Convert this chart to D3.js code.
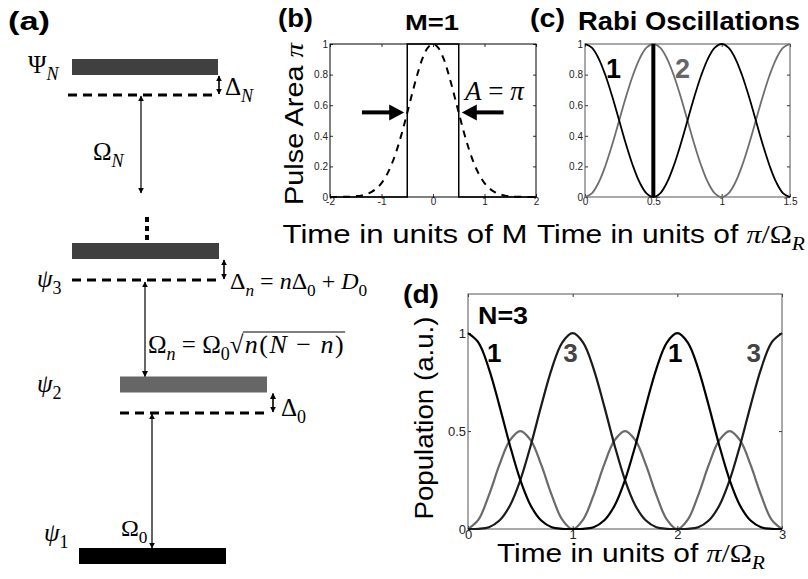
<!DOCTYPE html>
<html><head><meta charset="utf-8">
<script src="https://cdn.jsdelivr.net/npm/d3@7"></script>
<style>
body{margin:0;background:#fff}
svg{display:block}
text{font-family:"Liberation Sans",Arial,Helvetica,sans-serif}
</style>
</head><body>
<svg id="fig" width="808" height="579"></svg>
<script>
// ---------- DATA ----------
// (a) level diagram: energies in arbitrary units
const levelNames = ["ψ1", "ψ2", "ψ3", "ΨN"];
const levelEnergy = [0, 3.43, 6.1, 9.78];
const dressedEnergy = [2.86, 5.52, 9.22];   // dashed (detuned) levels below ψ2, ψ3, ΨN

// (b) pulse shapes
const pulseTime = [-2,-1.9,-1.8,-1.7,-1.6,-1.5,-1.4,-1.3,-1.2,-1.1,-1,-0.9,-0.8,-0.7,-0.6,-0.5,-0.4,-0.3,-0.2,-0.1,0,
  0.1,0.2,0.3,0.4,0.5,0.6,0.7,0.8,0.9,1,1.1,1.2,1.3,1.4,1.5,1.6,1.7,1.8,1.9,2];
const gaussArea = [0,0,0.001,0.001,0.002,0.005,0.009,0.018,0.032,0.055,0.091,0.144,0.216,0.31,0.423,0.55,0.682,0.806,0.909,0.976,1,
  0.976,0.909,0.806,0.682,0.55,0.423,0.31,0.216,0.144,0.091,0.055,0.032,0.018,0.009,0.005,0.002,0.001,0.001,0,0];
const squareTime = [-2,-0.5,-0.5,0.5,0.5,2];
const squareArea = [0,0,1,1,0,0];
const arrowY = 0.553;
const bXTicks = [-2,-1,0,1,2];
const bYTicks = [0,0.2,0.4,0.6,0.8,1];

// (c) Rabi oscillations, two levels
const rabiTime = [0,0.05,0.1,0.15,0.2,0.25,0.3,0.35,0.4,0.45,0.5,0.55,0.6,0.65,0.7,0.75,0.8,0.85,0.9,0.95,1,
  1.05,1.1,1.15,1.2,1.25,1.3,1.35,1.4,1.45,1.5];
const rabiPop1 = [1,0.976,0.905,0.794,0.655,0.5,0.345,0.206,0.095,0.024,0,0.024,0.095,0.206,0.345,0.5,0.655,0.794,0.905,0.976,1,
  0.976,0.905,0.794,0.655,0.5,0.345,0.206,0.095,0.024,0];
const rabiPop2 = [0,0.024,0.095,0.206,0.345,0.5,0.655,0.794,0.905,0.976,1,0.976,0.905,0.794,0.655,0.5,0.345,0.206,0.095,0.024,0,
  0.024,0.095,0.206,0.345,0.5,0.655,0.794,0.905,0.976,1];
const cXTicks = [0,0.5,1,1.5];
const cYTicks = [0,0.2,0.4,0.6,0.8,1];

// (d) N=3 populations
const popTime = [0,0.1,0.2,0.3,0.4,0.5,0.6,0.7,0.8,0.9,1,1.1,1.2,1.3,1.4,1.5,1.6,1.7,1.8,1.9,2,
  2.1,2.2,2.3,2.4,2.5,2.6,2.7,2.8,2.9,3];
const popN1 = [1,0.952,0.818,0.63,0.428,0.25,0.119,0.043,0.009,0.001,0,0.001,0.009,0.043,0.119,0.25,0.428,0.63,0.818,0.952,1,
  0.952,0.818,0.63,0.428,0.25,0.119,0.043,0.009,0.001,0];
const popN2 = [0,0.048,0.173,0.327,0.452,0.5,0.452,0.327,0.173,0.048,0,0.048,0.173,0.327,0.452,0.5,0.452,0.327,0.173,0.048,0,
  0.048,0.173,0.327,0.452,0.5,0.452,0.327,0.173,0.048,0];
const popN3 = [0,0.001,0.009,0.043,0.119,0.25,0.428,0.63,0.818,0.952,1,0.952,0.818,0.63,0.428,0.25,0.119,0.043,0.009,0.001,0,
  0.001,0.009,0.043,0.119,0.25,0.428,0.63,0.818,0.952,1];
const dXTicks = [0,1,2,3];
const dYTicks = [0,0.5,1];
const dCurveLabels = ["1","3","1","3"];
const dCurveLabelTime = [0.25,0.98,1.98,2.73];

// ---------- HELPERS ----------
const svg = d3.select("#fig");
const SERIF = "'Liberation Serif','Times New Roman',serif";

function rich(parent, x, y, parts, size, anchor, len, adj) {
  const t = parent.append("text").attr("x", x).attr("y", y).attr("font-size", size);
  if (anchor) t.attr("text-anchor", anchor);
  let shift = 0;
  parts.forEach(p => {
    const s = typeof p === "string" ? {t: p} : p;
    const ts = t.append("tspan").text(s.t);
    const target = s.sub ? size * 0.28 : 0;
    if (target !== shift) ts.attr("dy", target - shift);
    shift = target;
    ts.attr("font-size", s.sub ? size * 0.72 : size);
    if (s.m) ts.attr("font-family", SERIF);
    if (s.it) ts.attr("font-style", "italic");
  });
  if (len) t.attr("textLength", len).attr("lengthAdjust", adj || "spacingAndGlyphs");
  return t;
}

svg.append("defs").append("marker").attr("id","ah").attr("viewBox","0 0 10 10").attr("refX",9).attr("refY",5)
    .attr("markerWidth",6).attr("markerHeight",6).attr("markerUnits","userSpaceOnUse").attr("orient","auto-start-reverse")
    .append("path").attr("d","M0,0L10,5L0,10z").attr("fill","#000");

function axes(g, x, y, xt, yt, fs, pad, boxColor) {
  const [x0, x1] = x.range(), [y0, y1] = y.range();
  const fmt = d => String(d);
  g.append("g").attr("transform", `translate(0,${y0})`)
    .call(d3.axisBottom(x).tickValues(xt).tickSize(-3).tickPadding(pad).tickFormat(fmt));
  g.append("g").attr("transform", `translate(0,${y1})`)
    .call(d3.axisTop(x).tickValues(xt).tickSize(-3).tickFormat(""));
  g.append("g").attr("transform", `translate(${x0},0)`)
    .call(d3.axisLeft(y).tickValues(yt).tickSize(-3).tickPadding(pad + 1).tickFormat(fmt));
  g.append("g").attr("transform", `translate(${x1},0)`)
    .call(d3.axisRight(y).tickValues(yt).tickSize(-3).tickFormat(""));
  g.selectAll(".domain").remove();
  g.selectAll(".tick line").attr("stroke", "#333");
  g.selectAll(".tick text").attr("font-size", fs).attr("fill", "#222")
    .attr("font-family", "'Liberation Sans',Arial,sans-serif");
  g.append("rect").attr("x", x0).attr("y", y1).attr("width", x1 - x0).attr("height", y0 - y1)
    .attr("fill", "none").attr("stroke", boxColor).attr("stroke-width", 1);
}

// ---------- PANEL (a) ----------
const ga = svg.append("g");
const yE = d3.scaleLinear().domain([0, 10]).range([556, 56]);
const barX = [[79,226],[120,267],[72,219],[72,218]];
const barFill = ["#000","#666","#404040","#404040"];
const dashX = [[120,265],[72,218],[68,214]];
rich(svg, 8, 30, [{t:"(a)"}], 25, null, 42).attr("font-weight","bold");

levelEnergy.forEach((e, i) => {
  ga.append("rect").attr("x", barX[i][0]).attr("width", barX[i][1]-barX[i][0])
    .attr("y", yE(e) - 8).attr("height", 16).attr("fill", barFill[i]);
});
dressedEnergy.forEach((e, i) => {
  ga.append("line").attr("x1", dashX[i][0]).attr("x2", dashX[i][1]).attr("y1", yE(e)).attr("y2", yE(e))
    .attr("stroke", "#000").attr("stroke-width", 3.2).attr("stroke-dasharray", "9,6");
});
function dbl(x, ya, yb, w) {
  ga.append("line").attr("x1", x).attr("x2", x).attr("y1", ya).attr("y2", yb)
    .attr("stroke","#000").attr("stroke-width", w)
    .attr("marker-start","url(#ah)").attr("marker-end","url(#ah)");
}
// couplings
dbl(152, yE(levelEnergy[0]) - 8, yE(dressedEnergy[0]) + 1, 1.2);
dbl(145, yE(dressedEnergy[1]) + 2, yE(levelEnergy[1]) - 8, 1.2);
dbl(141, yE(dressedEnergy[2]) + 1, 193, 1.2);
// detunings
dbl(273, yE(levelEnergy[1]) + 9, yE(dressedEnergy[0]) - 1, 1.6);
dbl(224, yE(levelEnergy[2]) + 9, yE(dressedEnergy[1]) - 1, 1.6);
dbl(219, yE(levelEnergy[3]) + 9, yE(dressedEnergy[2]) - 1, 1.6);
// ellipsis dots
ga.append("line").attr("x1",147).attr("x2",147).attr("y1",217).attr("y2",241)
  .attr("stroke","#000").attr("stroke-width",4).attr("stroke-dasharray","5,4");

rich(ga, 28, 73, [{t:"Ψ",m:1},{t:"N",m:1,it:1,sub:1}], 25);
rich(ga, 37, 287, [{t:"ψ",m:1,it:1},{t:"3",m:1,sub:1}], 25);
rich(ga, 37, 392, [{t:"ψ",m:1,it:1},{t:"2",m:1,sub:1}], 25);
rich(ga, 44, 541, [{t:"ψ",m:1,it:1},{t:"1",m:1,sub:1}], 25);
rich(ga, 225, 95, [{t:"Δ",m:1},{t:"N",m:1,it:1,sub:1}], 25);
rich(ga, 93, 160, [{t:"Ω",m:1},{t:"N",m:1,it:1,sub:1}], 25);
rich(ga, 121, 536, [{t:"Ω",m:1},{t:"0",m:1,sub:1}], 24);
rich(ga, 281, 416, [{t:"Δ",m:1},{t:"0",m:1,sub:1}], 25);
rich(ga, 230, 289, [{t:"Δ",m:1},{t:"n",m:1,it:1,sub:1},{t:" = ",m:1},{t:"n",m:1,it:1},{t:"Δ",m:1},{t:"0",m:1,sub:1},
  {t:" + ",m:1},{t:"D",m:1,it:1},{t:"0",m:1,sub:1}], 24);
const om = rich(ga, 148, 353, [{t:"Ω",m:1},{t:"n",m:1,it:1,sub:1},{t:" = ",m:1},{t:"Ω",m:1},{t:"0",m:1,sub:1},{t:"√",m:1}], 25);
const omB = om.node().getBBox();
const radX = omB.x + omB.width;
const rad = rich(ga, radX + 1, 353, [{t:"n",m:1,it:1},{t:"(",m:1},{t:"N",m:1,it:1},{t:" − ",m:1},{t:"n",m:1,it:1},{t:")",m:1}], 26)
  .attr("letter-spacing", 1.5);
const radB = rad.node().getBBox();
ga.append("line").attr("x1", radX - 1).attr("x2", radB.x + radB.width)
  .attr("y1", 332).attr("y2", 332).attr("stroke","#000").attr("stroke-width",1);

// ---------- PANEL (b) ----------
const gb = svg.append("g");
const xb = d3.scaleLinear().domain([-2, 2]).range([330, 536]);
const yb = d3.scaleLinear().domain([0, 1]).range([197, 44]);
axes(gb, xb, yb, bXTicks, bYTicks, 10, 1, "#000");
const lineB = d3.line().x(d => xb(d[0])).y(d => yb(d[1]));
gb.append("path").attr("d", lineB.curve(d3.curveCatmullRom)(d3.zip(pulseTime, gaussArea)))
  .attr("fill","none").attr("stroke","#000").attr("stroke-width",2).attr("stroke-dasharray","7,6");
gb.append("path").attr("d", d3.line().x(d => xb(d[0])).y(d => yb(d[1]))(d3.zip(squareTime, squareArea)))
  .attr("fill","none").attr("stroke","#000").attr("stroke-width",1.5);
function bigArrow(g, xa, xbp, y) {
  const dir = Math.sign(xbp - xa);
  g.append("line").attr("x1", xa).attr("x2", xbp - dir*12).attr("y1", y).attr("y2", y)
    .attr("stroke","#000").attr("stroke-width",4);
  g.append("path").attr("d", `M${xbp},${y}L${xbp-dir*15},${y-8}L${xbp-dir*15},${y+8}Z`).attr("fill","#000");
}
bigArrow(gb, xb(-1.38), xb(-0.56), yb(arrowY));
bigArrow(gb, xb(1.37), xb(0.56), yb(arrowY));
rich(gb, 465, 100, [{t:"A",m:1,it:1},{t:" = ",m:1},{t:"π",m:1,it:1}], 27);
rich(svg, 278, 27, [{t:"(b)"}], 25, null, 35).attr("font-weight","bold");
rich(svg, 432, 30, [{t:"M=1"}], 22, "middle", 54).attr("font-weight","bold");
rich(gb, 405, 243, [{t:"Time in units of M"}], 26, "middle", 245);
rich(gb.append("g").attr("transform","translate(303,124) rotate(-90)"), 0, 0, [{t:"Pulse Area "},{t:"π",m:1,it:1}], 26, "middle", 162);

// ---------- PANEL (c) ----------
const gc = svg.append("g");
const xc = d3.scaleLinear().domain([0, 1.5]).range([585, 790]);
const yc = d3.scaleLinear().domain([0, 1]).range([197, 44]);
axes(gc, xc, yc, cXTicks, cYTicks, 10, 1, "#555");
const lineC = d3.line().x(d => xc(d[0])).y(d => yc(d[1])).curve(d3.curveCatmullRom);
gc.append("path").attr("d", lineC(d3.zip(rabiTime, rabiPop2))).attr("fill","none").attr("stroke","#6e6e6e").attr("stroke-width",1.8);
gc.append("path").attr("d", lineC(d3.zip(rabiTime, rabiPop1))).attr("fill","none").attr("stroke","#000").attr("stroke-width",1.8);
gc.append("line").attr("x1", xc(0.5)).attr("x2", xc(0.5)).attr("y1", yc(0)).attr("y2", yc(1))
  .attr("stroke","#000").attr("stroke-width",4);
rich(gc, 606, 78, [{t:"1"}], 27).attr("font-weight","bold").attr("fill","#000");
rich(gc, 675, 78, [{t:"2"}], 27).attr("font-weight","bold").attr("fill","#666");
rich(svg, 530, 27, [{t:"(c)"}], 25, null, 35).attr("font-weight","bold");
rich(svg, 578, 30, [{t:"Rabi Oscillations"}], 25, null, 222).attr("font-weight","bold");
rich(gc, 671, 243, [{t:"Time in units of "},{t:"π",m:1,it:1},{t:"/Ω",m:1},{t:"R",m:1,it:1,sub:1}], 26, "middle", 268);

// ---------- PANEL (d) ----------
const gd = svg.append("g");
const xd = d3.scaleLinear().domain([0, 3]).range([468, 782]);
const yd = d3.scaleLinear().domain([0, 1.2]).range([529, 294]);
axes(gd, xd, yd, dXTicks, dYTicks, 13, 1, "#555");
const lineD = d3.line().x(d => xd(d[0])).y(d => yd(d[1])).curve(d3.curveCatmullRom);
gd.append("path").attr("d", lineD(d3.zip(popTime, popN2))).attr("fill","none").attr("stroke","#6a6a6a").attr("stroke-width",2.2);
gd.append("path").attr("d", lineD(d3.zip(popTime, popN3))).attr("fill","none").attr("stroke","#1a1a1a").attr("stroke-width",2.2);
gd.append("path").attr("d", lineD(d3.zip(popTime, popN1))).attr("fill","none").attr("stroke","#000").attr("stroke-width",2.2);
dCurveLabels.forEach((lab, i) => {
  rich(gd, xd(dCurveLabelTime[i]), 362, [{t:lab}], 26, "middle").attr("font-weight","bold")
    .attr("fill", lab === "1" ? "#000" : "#444");
});
rich(gd, 478, 324, [{t:"N=3"}], 23, null, 50).attr("font-weight","bold");
rich(svg, 403, 303, [{t:"(d)"}], 25, null, 36).attr("font-weight","bold");
rich(gd, 631, 562, [{t:"Time in units of "},{t:"π",m:1,it:1},{t:"/Ω",m:1},{t:"R",m:1,it:1,sub:1}], 26, "middle", 268);
rich(gd.append("g").attr("transform","translate(433,418) rotate(-90)"), 0, 0, [{t:"Population (a.u.)"}], 26, "middle", 203);
</script>
</body></html>
